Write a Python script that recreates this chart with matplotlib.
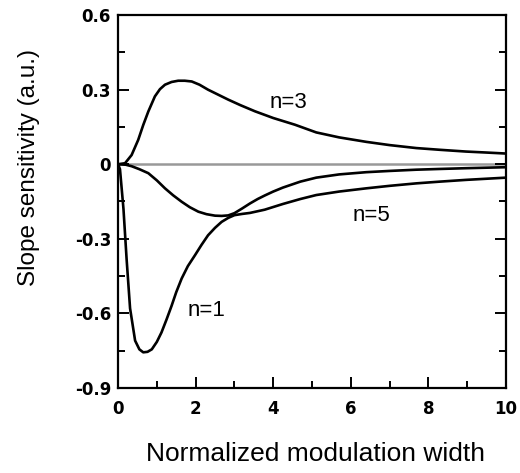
import matplotlib
matplotlib.use("Agg")
import matplotlib.pyplot as plt
from matplotlib.ticker import MultipleLocator

# slope sensitivity vs. normalized modulation width, harmonics n=1,3,5
x_n1 = [0, 0.05, 0.14, 0.22, 0.31, 0.44, 0.55, 0.65, 0.76, 0.87, 1.0, 1.12,
        1.25, 1.38, 1.5, 1.64, 1.8, 1.98, 2.15, 2.32, 2.5, 2.67, 2.84, 3.0,
        3.2, 3.4, 3.78, 4.25, 4.7, 5.11, 5.7, 6.4, 7.0, 7.69, 8.3, 8.97,
        10.0]
y_n1 = [0, -0.02, -0.18, -0.38, -0.58, -0.71, -0.745, -0.757, -0.755,
        -0.745, -0.715, -0.677, -0.625, -0.57, -0.515, -0.46, -0.41, -0.367,
        -0.325, -0.286, -0.256, -0.232, -0.216, -0.205, -0.2, -0.196, -0.183,
        -0.16, -0.14, -0.124, -0.11, -0.097, -0.087, -0.077, -0.07, -0.063,
        -0.054]

x_n3 = [0, 0.18, 0.35, 0.52, 0.65, 0.78, 0.95, 1.08, 1.21, 1.38, 1.55, 1.72,
        1.9, 2.1, 2.32, 2.58, 2.84, 3.15, 3.53, 4.0, 4.56, 5.11, 5.7, 6.4,
        7.0, 7.69, 8.3, 8.97, 9.5, 10.0]
y_n3 = [0, 0.004, 0.037, 0.098, 0.158, 0.212, 0.273, 0.302, 0.32, 0.331,
        0.336, 0.336, 0.333, 0.32, 0.3, 0.28, 0.26, 0.238, 0.213, 0.186,
        0.159, 0.128, 0.108, 0.09, 0.077, 0.065, 0.058, 0.051, 0.047, 0.043]

x_n5 = [0, 0.2, 0.35, 0.55, 0.78, 1.0, 1.21, 1.42, 1.64, 1.85, 2.07, 2.28,
        2.5, 2.67, 2.84, 3.0, 3.2, 3.4, 3.6, 3.78, 4.0, 4.25, 4.7, 5.11,
        5.7, 6.4, 7.0, 7.69, 8.3, 8.97, 10.0]
y_n5 = [0, -0.002, -0.008, -0.02, -0.036, -0.065, -0.097, -0.125, -0.151,
        -0.173, -0.191, -0.201, -0.207, -0.208, -0.206, -0.197, -0.178,
        -0.158, -0.14, -0.126, -0.11, -0.094, -0.07, -0.054, -0.041, -0.032,
        -0.027, -0.022, -0.019, -0.016, -0.012]

curve_labels = ["n=3", "n=5", "n=1"]
label_x = [3.9, 6.05, 1.78]
label_y = [0.226, -0.23, -0.61]

x_ticks = [0, 2, 4, 6, 8, 10]
y_ticks = [0.6, 0.3, 0, -0.3, -0.6, -0.9]
y_tick_labels = ["0.6", "0.3", "0", "-0.3", "-0.6", "-0.9"]

plt.rcParams['font.family'] = ['Liberation Sans', 'DejaVu Sans']

fig = plt.figure(figsize=(5.2, 4.73), dpi=100)
ax = fig.add_axes([0.227, 0.18, 0.746, 0.788])

ax.axhline(0, color="0.6", lw=1.8, zorder=1)
for xs, ys in [(x_n1, y_n1), (x_n3, y_n3), (x_n5, y_n5)]:
    ax.plot(xs, ys, color="black", lw=1.9, solid_joinstyle="round",
            solid_capstyle="round", zorder=2)

for lbl, lx, ly in zip(curve_labels, label_x, label_y):
    ax.text(lx, ly, lbl, fontsize=16, va="baseline", ha="left")

ax.set_xlim(0, 10)
ax.set_ylim(-0.9, 0.6)
ax.set_xticks(x_ticks)
ax.set_yticks(y_ticks)
ax.set_yticklabels(y_tick_labels)
ax.xaxis.set_minor_locator(MultipleLocator(1))
ax.yaxis.set_minor_locator(MultipleLocator(0.15))
ax.tick_params(which="both", direction="in", right=True, top=False, width=1.4)
ax.tick_params(which="major", length=8)
ax.tick_params(which="minor", length=5)
ax.tick_params(axis="x", pad=9)
ax.tick_params(axis="y", pad=5)
for lbl in ax.get_xticklabels() + ax.get_yticklabels():
    lbl.set_family("DejaVu Sans")
    lbl.set_fontweight("bold")
    lbl.set_fontsize(12)
for sp in ax.spines.values():
    sp.set_linewidth(1.6)

ax.set_xlabel("Normalized modulation width", fontsize=19)
ax.set_ylabel("Slope sensitivity (a.u.)", fontsize=17.5)
ax.xaxis.set_label_coords(0.51, -0.145)
ax.yaxis.set_label_coords(-0.20, 0.59)

fig.savefig("out.png", dpi=100)
